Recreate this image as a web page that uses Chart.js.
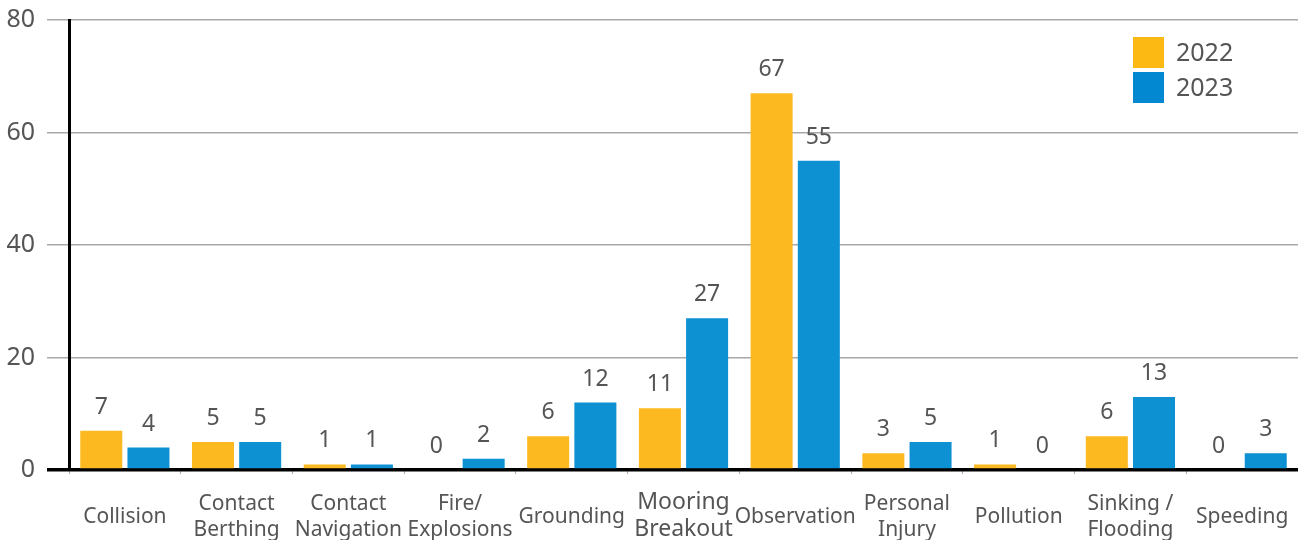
<!DOCTYPE html>
<html>
<head>
<meta charset="utf-8">
<script src="https://cdn.jsdelivr.net/npm/chart.js@4/dist/chart.umd.min.js"></script>
<style>
  html, body { margin: 0; padding: 0; background: #fff; }
  #wrap { width: 1298px; height: 540px; }
</style>
</head>
<body>
<div id="wrap"><canvas id="incidentChart"></canvas></div>
<script>
const categories = [
  "Collision", ["Contact", "Berthing"], ["Contact", "Navigation"], ["Fire/", "Explosions"],
  "Grounding", ["Mooring", "Breakout"], "Observation", ["Personal", "Injury"],
  "Pollution", ["Sinking /", "Flooding"], "Speeding"
];
const values2022 = [7, 5, 1, 0, 6, 11, 67, 3, 1, 6, 0];
const values2023 = [4, 5, 1, 2, 12, 27, 55, 5, 0, 13, 3];
const yTicks = [0, 20, 40, 60, 80];

const textColor = "#555555";
const fontFamily = "'Noto Sans', sans-serif";

// value labels above every bar
const barLabels = {
  id: "barLabels",
  afterDatasetsDraw(chart) {
    const ctx = chart.ctx;
    ctx.save();
    ctx.font = "23px " + fontFamily;
    ctx.fillStyle = textColor;
    ctx.textAlign = "center";
    ctx.textBaseline = "bottom";
    chart.data.datasets.forEach((ds, i) => {
      chart.getDatasetMeta(i).data.forEach((bar, j) => {
        ctx.fillText(ds.data[j], bar.x, bar.y - 12);
      });
    });
    ctx.restore();
  }
};

// legend in the top right corner of the plot
const cornerLegend = {
  id: "cornerLegend",
  afterDraw(chart) {
    const ctx = chart.ctx;
    const x = 1133, y = 37, box = 31, step = 35;
    ctx.save();
    ctx.font = "25px " + fontFamily;
    ctx.textBaseline = "middle";
    chart.data.datasets.forEach((ds, i) => {
      ctx.fillStyle = ds.legendColor;
      ctx.fillRect(x, y + i * step, box, box);
      ctx.fillStyle = textColor;
      ctx.fillText(ds.label, x + box + 12, y + i * step + box / 2 + 1);
    });
    ctx.restore();
  }
};

new Chart(document.getElementById("incidentChart"), {
  type: "bar",
  data: {
    labels: categories,
    datasets: [
      { label: "2022", data: values2022, backgroundColor: "#FDB920", legendColor: "#FDB913" },
      { label: "2023", data: values2023, backgroundColor: "#0E91D3", legendColor: "#0288D1" }
    ]
  },
  options: {
    responsive: true,
    maintainAspectRatio: false,
    animation: false,
    layout: { padding: { top: 20, right: 0 } },
    categoryPercentage: 0.845,
    barPercentage: 0.89,
    plugins: {
      legend: { display: false },
      tooltip: { enabled: false }
    },
    scales: {
      x: {
        afterFit(scale) {
          scale.height = 70;
          scale.paddingLeft = 0;
          scale.paddingRight = 0;
        },
        border: { display: false },
        grid: {
          drawOnChartArea: false,
          color: "#aaaaaa",
          tickLength: 4,
          offset: true
        },
        ticks: {
          autoSkip: false,
          maxRotation: 0,
          minRotation: 0,
          crossAlign: "center",
          padding: 28,
          color: textColor,
          font: (c) => ({ family: fontFamily, size: c.index === 5 ? 23 : 21, lineHeight: 1.2 })
        }
      },
      y: {
        min: 0,
        max: 80,
        z: 1,
        afterFit(scale) {
          scale.width = 69;
          scale.paddingTop = 0;
          scale.paddingBottom = 0;
        },
        afterBuildTicks(scale) { scale.ticks = yTicks.map(v => ({ value: v })); },
        border: { display: true, color: "#000000", width: 3 },
        grid: {
          color: (c) => c.tick.value === 0 ? "#000000" : "rgba(110,110,110,0.6)",
          lineWidth: (c) => c.tick.value === 0 ? 3.5 : 1.5,
          tickLength: 22,
          drawTicks: true
        },
        ticks: {
          padding: 12,
          color: textColor,
          font: { family: fontFamily, size: 25 }
        }
      }
    }
  },
  plugins: [barLabels, cornerLegend]
});
</script>
</body>
</html>
